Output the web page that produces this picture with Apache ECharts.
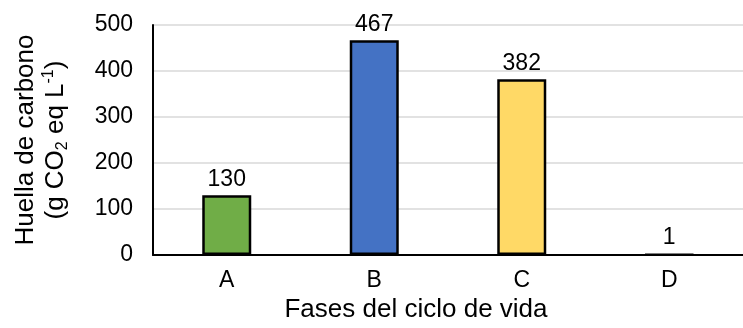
<!DOCTYPE html>
<html>
<head>
<meta charset="utf-8">
<script src="https://cdn.jsdelivr.net/npm/echarts@6/dist/echarts.min.js"></script>
<style>
  html, body { margin: 0; padding: 0; background: #fff; }
  #chart { width: 743px; height: 328px; }
</style>
</head>
<body>
<div id="chart"></div>
<script>
const categories = ['A', 'B', 'C', 'D']
const values = [130, 467, 382, 1]
const barColors = ['#70AD47', '#4472C4', '#FFD966', '#A5A5A5']
const yTicks = [0, 100, 200, 300, 400, 500]

const font = '"Liberation Sans", Arial, sans-serif'

let myChart = echarts.init(document.getElementById('chart'))

let data = []
values.forEach((v, i) => {
  data.push({
    value: v,
    itemStyle: { color: barColors[i] }
  })
})

myChart.setOption({
  animation: false,
  textStyle: { fontFamily: font },
  grid: {
    left: 153,
    top: 25,
    bottom: 67,
    width: 600
  },
  xAxis: {
    type: 'category',
    data: categories,
    name: 'Fases del ciclo de vida',
    nameLocation: 'middle',
    nameGap: 37,
    nameTextStyle: {
      fontSize: 26,
      color: '#000',
      fontFamily: font,
      padding: [0, 64, 0, 0]
    },
    axisLine: { lineStyle: { color: '#000', width: 2 } },
    axisTick: { show: false },
    axisLabel: { fontSize: 23, color: '#000', margin: 14, fontFamily: font }
  },
  yAxis: {
    type: 'value',
    min: yTicks[0],
    max: yTicks[yTicks.length - 1],
    interval: 100,
    name: '{a|Huella de carbono}\n{a|(g CO}{sub|2}{a| eq L}{sup|-1}{a|)}',
    nameLocation: 'middle',
    nameGap: 82,
    nameTextStyle: {
      color: '#000',
      fontFamily: font,
      rich: {
        a: { fontSize: 26, lineHeight: 30, color: '#000', fontFamily: font },
        sub: { fontSize: 16, lineHeight: 16, padding: [14, 0, 0, 0], color: '#000', fontFamily: font },
        sup: { fontSize: 16, lineHeight: 16, padding: [0, 0, 14, 0], color: '#000', fontFamily: font }
      }
    },
    axisLine: { show: true, lineStyle: { color: '#000', width: 2 } },
    axisTick: { show: false },
    axisLabel: { fontSize: 23, color: '#000', margin: 20, fontFamily: font },
    splitLine: { lineStyle: { color: '#D9D9D9', width: 1.5 } }
  },
  series: [{
    type: 'bar',
    data: data,
    barWidth: 49,
    itemStyle: { borderColor: '#000', borderWidth: 2.5 },
    label: {
      show: true,
      position: 'top',
      distance: 4,
      fontSize: 23,
      color: '#000',
      fontFamily: font
    }
  }]
})
</script>
</body>
</html>
